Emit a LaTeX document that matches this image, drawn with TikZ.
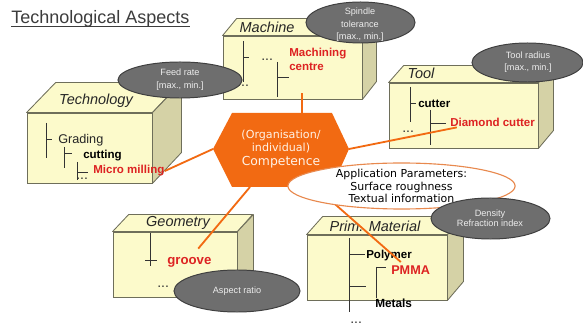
\documentclass[tikz,border=0pt]{standalone}
\usepackage{fontspec}
\setmainfont{Liberation Sans}
\newfontfamily\dejavu{DejaVu Sans}
\usepackage{tikz}
\usetikzlibrary{calc,fit}
\definecolor{boxfront}{HTML}{FCFACB}
\definecolor{boxside}{HTML}{D5D2A6}
\definecolor{boxline}{HTML}{6E6E5A}
\definecolor{treec}{HTML}{333333}
\definecolor{labc}{HTML}{262626}
\definecolor{redc}{HTML}{DD2222}
\definecolor{orng}{HTML}{F26A12}
\definecolor{hextext}{HTML}{FFF2E6}
\definecolor{bubfill}{HTML}{6E6E6E}
\definecolor{bubline}{HTML}{3F3F3F}
\definecolor{bubtext}{HTML}{EDEDED}
\definecolor{appline}{HTML}{E8894E}
\definecolor{titlec}{HTML}{3C3C3C}
\tikzset{
  front/.style={draw=boxline, fill=boxfront, line width=0.6pt, inner sep=0pt},
  face/.style={draw=boxline, line width=0.6pt, line join=round},
  tree/.style={draw=treec, line width=0.6pt},
  link/.style={draw=orng, line width=1.3pt},
  boxlab/.style={font=\fontsize{10.3}{12}\selectfont\itshape, text=labc, inner sep=0pt},
  item/.style={font=\fontsize{8.2}{10}\selectfont\bfseries, text=black, anchor=base west, inner sep=0pt},
  hot/.style={item, text=redc},
  dots/.style={font=\fontsize{10}{12}\selectfont, text=treec, anchor=base west, inner sep=0pt},
  bubble/.style={draw=bubline, fill=bubfill, line width=0.7pt},
  btxt/.style={font=\fontsize{6.5}{8.8}\selectfont, text=bubtext, align=center, inner sep=0pt},
  comp/.style={font=\dejavu\fontsize{7.9}{9.9}\selectfont, text=hextext, align=center, inner sep=0pt},
  apptxt/.style={font=\dejavu\fontsize{7.8}{8.9}\selectfont, text=black, align=center, inner sep=0pt},
  title/.style={font=\fontsize{12.8}{15}\selectfont, text=titlec, anchor=base west, inner sep=0pt},
}
\newcommand{\cuboid}[7]{%
  \node[front, fit={(#2,#3) (#4,#5)}] (#1) {};
  \draw[face, fill=boxfront] (#1.north west) -- ++(#6,-#7) -- ++(#4-#2,0) -- (#1.north east) -- cycle;
  \draw[face, fill=boxside] (#1.north east) -- ++(#6,-#7) -- ++(0,#5-#3) -- (#1.south east) -- cycle;
}

\begin{document}
\begin{tikzpicture}[x=0.025cm, y=-0.025cm]
  \useasboundingbox (0,0) rectangle (583,326);

  \node[title] (title) at (11,24) {Technological Aspects};
  \draw[titlec, line width=0.8pt] ([yshift=-1.8pt]title.base west) -- ([yshift=-1.8pt]title.base east);

  \cuboid{tech}{27}{113}{152}{183}{29}{30}
  \node[boxlab] (techlab) at (96,101) {Technology};
  \draw[tree] (46,123) -- (46,158) (46,139) -- (52,139)
              (64,147) -- (64,168) (64,153) -- (72,153)
              (77,162) -- (77,180) (77,172) -- (88,172);
  \node[item, font=\fontsize{9}{11}\selectfont, text=labc] (grading) at (58,144) {Grading};
  \node[item] (cutting) at (83,159) {cutting};
  \node[hot] (mill) at (93,174) {Micro milling};
  \node[dots] (tdots) at (76,180) {...};

  \cuboid{mach}{223}{36}{362}{99}{14}{17}
  \node[boxlab] (machlab) at (267,27) {Machine};
  \draw[tree] (243,41) -- (243,82) (243,57) -- (249,57)
              (277,62) -- (277,97) (277,77) -- (289,77);
  \node[dots] (mdotsA) at (261,61) {...};
  \node[dots] (mdotsB) at (237,87) {...};
  \node[hot, align=left, anchor=north west] (centre) at (289,48) {Machining\\centre};

  \cuboid{tool}{389}{83}{538}{148}{15}{17}
  \node[boxlab] (toollab) at (421,73) {Tool};
  \draw[tree] (410,87) -- (410,122) (410,103) -- (416,103)
              (430,110) -- (430,145) (430,123) -- (446,123);
  \node[item] (cutter) at (418,108) {cutter};
  \node[hot] (dia) at (450,127) {Diamond cutter};
  \node[dots] (tldots) at (402,133) {...};

  \cuboid{geom}{113}{232}{237}{297}{16}{17}
  \node[boxlab] (geomlab) at (178,223) {Geometry};
  \draw[tree] (150,233) -- (150,266) (145,260) -- (157,260);
  \node[hot, font=\fontsize{9.4}{11}\selectfont\bfseries] (groove) at (167,264) {groove};
  \node[dots] (gdots) at (157,287) {...};

  \cuboid{prim}{307}{235}{447}{300}{16}{18}
  \node[boxlab] (primlab) at (375,226) {Prim. Material};
  \draw[tree] (349,238) -- (349,312) (349,254) -- (365,254)
              (376,267) -- (376,298) (376,267) -- (386,267)
              (349,286) -- (366,286);
  \node[item] (polymer) at (366,259) {Polymer};
  \node[hot, font=\fontsize{9}{11}\selectfont\bfseries] (pmma) at (391,274) {PMMA};
  \node[item, font=\fontsize{8.4}{10}\selectfont\bfseries] (metals) at (375,307) {Metals};
  \node[dots] (pdots) at (350,323.5) {...};

  \coordinate (hw) at (213,149);
  \coordinate (hnw) at (232,113);
  \coordinate (hne) at (332,113);
  \coordinate (he) at (349,149);
  \coordinate (hse) at (332,187);
  \coordinate (hsw) at (232,187);
  \coordinate (hexTop) at ($(hnw)!0.7!(hne)$);
  \coordinate (hexBL) at ($(hsw)!0.18!(hse)$);
  \coordinate (hexBR) at ($(hsw)!0.835!(hse)$);

  \draw[link] (hexTop) -- ($(hexTop |- mach.south)+(0,-6)$);
  \draw[link] (hw) -- (mill.east);
  \draw[link] (he) -- ($(dia.south west)!0.08!(dia.south east)$);
  \draw[link] (hexBL) -- ($(groove.north)!0.4!(groove.north east)+(0,-8)$);
  \draw[link] (hexBR) -- ($(pmma.north west)!0.25!(pmma.north east)+(0,-3)$);

  \fill[orng] (hw) -- (hnw) -- (hne) -- (he) -- (hse) -- (hsw) -- cycle;
  \node[comp] (comp) at (281,149) {(Organisation/\\individual)\\\fontsize{8.8}{9.9}\selectfont Competence};

  \draw[appline, fill=white, line width=0.8pt] (401.5,186) ellipse [x radius=2.84cm, y radius=0.575cm];
  \node[apptxt] (app) at (401.5,186) {Application Parameters:\\Surface roughness\\Textual information};

  \draw[bubble] (180,80) ellipse [x radius=1.55cm, y radius=0.45cm];
  \node[btxt] (feed) at (180,79.5) {Feed rate\\{}[max., min.]};
  \draw[bubble] (360.5,22.5) ellipse [x radius=1.3625cm, y radius=0.5125cm];
  \node[btxt] (spindle) at (360,25) {Spindle\\tolerance\\{}[max., min.]};
  \draw[bubble] (527.5,62.5) ellipse [x radius=1.3875cm, y radius=0.4875cm];
  \node[btxt] (radius) at (528,62) {Tool radius\\{}[max., min.]};
  \draw[bubble] (490.5,218.5) ellipse [x radius=1.4875cm, y radius=0.5125cm];
  \node[btxt, font=\fontsize{6.5}{7.4}\selectfont] (density) at (490,218) {Density\\Refraction index};
  \draw[bubble] (237,291) ellipse [x radius=1.575cm, y radius=0.525cm];
  \node[btxt] (aspect) at (237,291) {Aspect ratio};
\end{tikzpicture}
\end{document}
